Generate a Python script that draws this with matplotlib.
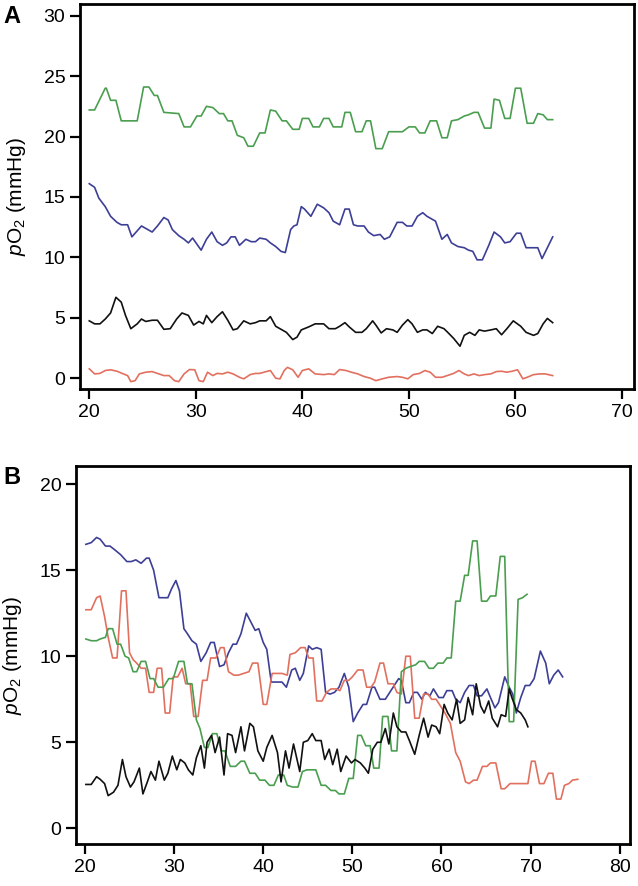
import matplotlib
matplotlib.use("Agg")
import matplotlib.pyplot as plt
import numpy as np

plt.rcParams["font.family"] = ["Liberation Sans", "DejaVu Sans"]
plt.rcParams["mathtext.fontset"] = "custom"
plt.rcParams["mathtext.rm"] = "Liberation Sans"
plt.rcParams["mathtext.it"] = "Liberation Sans:italic"

GREEN = "#4a9e4f"
BLUE = "#3d3f96"
RED = "#e2705f"
BLACK = "#111111"

# panel A: (time, pO2)
A_GREEN = [(20.0, 22.2), (20.5, 22.2), (21.5, 24.0), (21.6, 24.0), (22.0, 23.0), (22.5, 23.0),
           (23.0, 21.3), (24.5, 21.3), (25.1, 24.1), (25.6, 24.1), (26.1, 23.4), (26.4, 23.4),
           (27.0, 22.0), (28.4, 21.9), (28.9, 20.8), (29.5, 20.8), (30.1, 21.7), (30.5, 21.7),
           (31.0, 22.5), (31.6, 22.4), (32.2, 21.9), (32.6, 21.9), (33.0, 21.3), (33.4, 21.3),
           (33.9, 20.1), (34.5, 19.9), (34.9, 19.2), (35.4, 19.2), (36.0, 20.3), (36.5, 20.3),
           (37.0, 22.2), (37.5, 22.1), (38.1, 21.3), (38.5, 21.3), (39.1, 20.6), (39.7, 20.6),
           (40.0, 21.5), (40.6, 21.5), (41.0, 20.8), (41.6, 20.8), (42.0, 21.5), (42.5, 21.5),
           (42.9, 20.8), (43.7, 20.8), (44.0, 22.0), (44.5, 22.0), (45.0, 20.4), (45.6, 20.4),
           (46.0, 21.3), (46.4, 21.3), (46.9, 19.0), (47.5, 19.0), (48.1, 20.4), (49.4, 20.4),
           (50.0, 20.8), (50.6, 20.8), (51.0, 20.3), (51.5, 20.3), (52.0, 21.3), (52.6, 21.3),
           (53.1, 19.9), (53.6, 19.9), (54.0, 21.3), (54.6, 21.4), (55.2, 21.7), (55.6, 21.8),
           (56.1, 22.0), (56.5, 22.0), (57.1, 20.7), (57.7, 20.7), (58.0, 23.1), (58.5, 23.0),
           (59.0, 21.5), (59.5, 21.5), (60.0, 24.0), (60.5, 24.0), (61.1, 21.1), (61.7, 21.1),
           (62.1, 21.9), (62.6, 21.8), (63.0, 21.4), (63.5, 21.4)]

A_BLUE = [(20.0, 16.1), (20.5, 15.8), (20.9, 14.9), (21.5, 14.2), (22.0, 13.4), (22.6, 12.9),
          (23.0, 12.7), (23.6, 12.7), (24.0, 11.7), (24.5, 12.2), (24.9, 12.6), (25.3, 12.4),
          (25.9, 12.1), (26.4, 12.6), (27.0, 13.3), (27.4, 13.1), (27.8, 12.3), (28.4, 11.8),
          (28.9, 11.5), (29.3, 11.2), (29.7, 11.6), (30.1, 11.1), (30.5, 10.6), (31.0, 11.5),
          (31.5, 12.1), (32.0, 11.3), (32.5, 11.0), (32.9, 11.2), (33.3, 11.7), (33.7, 11.7),
          (34.1, 11.0), (34.7, 11.5), (35.2, 11.3), (35.6, 11.3), (36.0, 11.6), (36.6, 11.5),
          (37.0, 11.2), (37.5, 10.9), (38.0, 10.5), (38.4, 10.4), (38.9, 12.3), (39.2, 12.6),
          (39.5, 12.7), (39.9, 14.2), (40.2, 14.0), (40.8, 13.4), (41.4, 14.4), (42.0, 14.1),
          (42.5, 13.7), (42.9, 13.0), (43.5, 12.7), (44.0, 14.0), (44.4, 14.0), (44.8, 12.7),
          (45.2, 12.6), (45.8, 12.6), (46.2, 12.1), (46.7, 11.8), (47.3, 11.9), (47.7, 11.5),
          (48.2, 11.7), (48.9, 12.9), (49.4, 12.9), (49.8, 12.6), (50.3, 12.6), (50.8, 13.4),
          (51.3, 13.7), (51.7, 13.4), (52.1, 13.2), (52.5, 13.0), (53.1, 11.5), (53.6, 11.9),
          (54.0, 11.2), (54.6, 10.9), (55.2, 10.8), (55.6, 10.6), (56.0, 10.5), (56.4, 9.8),
          (56.9, 9.8), (57.5, 11.0), (58.0, 12.1), (58.6, 11.7), (59.0, 11.2), (59.5, 11.3),
          (60.1, 12.0), (60.5, 12.0), (61.0, 10.8), (61.6, 10.8), (62.1, 10.8), (62.5, 9.9),
          (63.0, 10.8), (63.5, 11.7)]

A_BLACK = [(20.0, 4.75), (20.5, 4.5), (21.0, 4.5), (21.5, 4.9), (22.0, 5.4), (22.5, 6.7),
           (23.0, 6.3), (23.4, 5.2), (23.9, 4.1), (24.5, 4.5), (24.9, 4.9), (25.3, 4.7),
           (25.9, 4.8), (26.4, 4.8), (27.0, 4.05), (27.6, 4.1), (28.2, 4.9), (28.7, 5.4),
           (29.3, 5.2), (29.8, 4.4), (30.3, 4.7), (30.7, 4.5), (31.0, 5.2), (31.5, 4.6),
           (32.0, 5.1), (32.5, 5.5), (33.0, 4.8), (33.5, 4.0), (33.9, 4.1), (34.5, 4.75),
           (35.1, 4.5), (35.6, 4.6), (36.0, 4.75), (36.6, 4.75), (37.0, 5.1), (37.5, 4.3),
           (37.9, 4.1), (38.5, 3.8), (39.1, 3.2), (39.5, 3.4), (39.9, 4.0), (40.6, 4.25),
           (41.2, 4.5), (42.0, 4.5), (42.5, 4.1), (43.1, 4.1), (43.5, 4.3), (44.0, 4.6),
           (44.4, 4.25), (45.0, 3.8), (45.6, 3.8), (46.0, 4.1), (46.6, 4.75), (46.9, 4.4),
           (47.4, 3.75), (47.9, 4.1), (48.5, 4.0), (48.9, 3.8), (49.4, 4.4), (49.9, 4.85),
           (50.3, 4.5), (50.8, 3.8), (51.3, 4.0), (51.7, 4.0), (52.2, 3.7), (52.7, 4.3),
           (53.3, 4.1), (53.7, 3.75), (54.2, 3.3), (54.8, 2.65), (55.2, 3.55), (55.7, 3.8),
           (56.2, 3.55), (56.6, 4.0), (57.1, 3.9), (57.7, 4.0), (58.2, 4.1), (58.7, 3.6),
           (59.2, 4.1), (59.8, 4.75), (60.5, 4.3), (61.0, 3.8), (61.7, 3.55), (62.1, 3.7),
           (62.6, 4.5), (63.0, 4.95), (63.5, 4.6)]

A_RED = [(20.0, 0.78), (20.5, 0.36), (21.0, 0.4), (21.5, 0.64), (22.0, 0.7), (22.6, 0.58),
         (23.2, 0.36), (23.6, 0.22), (23.9, -0.28), (24.3, -0.2), (24.7, 0.36), (25.3, 0.5),
         (25.9, 0.55), (26.4, 0.4), (27.0, 0.22), (27.5, 0.22), (28.0, -0.2), (28.4, -0.28),
         (28.9, 0.36), (29.4, 0.72), (29.9, 0.7), (30.3, -0.2), (30.7, -0.28), (31.1, 0.5),
         (31.6, 0.22), (32.0, 0.4), (32.5, 0.36), (33.0, 0.5), (33.5, 0.36), (34.1, 0.08),
         (34.5, -0.05), (35.1, 0.3), (35.6, 0.4), (36.0, 0.4), (36.6, 0.55), (37.0, 0.64),
         (37.5, 0.0), (37.9, -0.05), (38.3, 0.64), (38.6, 0.9), (39.1, 0.7), (39.6, 0.08),
         (40.0, 0.64), (40.6, 0.78), (41.2, 0.36), (42.0, 0.3), (42.5, 0.36), (43.0, 0.3),
         (43.5, 0.72), (44.1, 0.64), (44.6, 0.5), (45.2, 0.36), (45.8, 0.14), (46.4, 0.0),
         (46.9, -0.2), (47.5, -0.05), (48.1, 0.08), (48.9, 0.14), (49.4, 0.08), (49.9, -0.05),
         (50.4, 0.3), (51.0, 0.4), (51.5, 0.64), (52.0, 0.5), (52.5, 0.08), (53.1, 0.08),
         (53.6, 0.22), (54.2, 0.4), (54.7, 0.64), (55.2, 0.36), (55.6, 0.22), (56.1, 0.36),
         (56.6, 0.22), (57.1, 0.3), (57.7, 0.36), (58.2, 0.55), (58.7, 0.58), (59.2, 0.5),
         (59.7, 0.58), (60.2, 0.7), (60.7, -0.05), (61.1, 0.08), (61.7, 0.3), (62.3, 0.36),
         (62.8, 0.36), (63.5, 0.22)]

# panel B: (time, pO2)
B_BLUE = [(20.1, 16.5), (20.7, 16.6), (21.3, 16.9), (21.7, 16.8), (22.3, 16.4), (22.8, 16.4),
          (23.3, 16.2), (24.0, 15.9), (24.7, 15.5), (25.2, 15.5), (25.7, 15.6), (26.3, 15.4),
          (26.9, 15.7), (27.2, 15.7), (27.7, 15.0), (28.0, 14.2), (28.3, 13.4), (28.8, 13.4),
          (29.3, 13.4), (29.7, 13.9), (30.2, 14.4), (30.6, 13.8), (31.1, 11.6), (31.5, 11.3),
          (32.0, 10.9), (32.5, 10.7), (33.0, 9.7), (33.6, 10.2), (34.1, 10.8), (34.5, 10.8),
          (35.1, 9.4), (35.6, 9.5), (36.1, 10.2), (36.6, 10.7), (37.0, 10.7), (37.5, 11.3),
          (38.1, 12.5), (38.6, 12.0), (39.1, 11.5), (39.5, 11.6), (40.0, 10.8), (40.4, 10.4),
          (40.9, 8.5), (41.6, 8.5), (42.1, 8.5), (42.6, 8.2), (43.2, 9.2), (43.6, 9.3),
          (44.1, 8.6), (44.5, 9.0), (45.1, 10.6), (45.5, 10.4), (46.0, 10.5), (46.5, 10.4),
          (47.0, 7.9), (47.5, 7.8), (48.0, 7.9), (48.5, 8.2), (49.1, 9.0), (49.6, 8.2),
          (50.1, 6.2), (50.6, 6.7), (51.2, 7.2), (51.6, 7.2), (52.2, 8.2), (52.5, 8.2),
          (53.1, 7.5), (53.7, 7.5), (54.2, 7.9), (54.7, 8.3), (55.2, 8.7), (55.5, 8.6),
          (56.0, 7.3), (56.4, 7.3), (56.9, 7.9), (57.3, 7.9), (57.8, 7.5), (58.2, 7.9),
          (58.7, 7.7), (59.1, 8.1), (59.7, 7.6), (60.2, 7.6), (60.6, 8.0), (61.2, 8.0),
          (61.6, 7.5), (62.1, 7.3), (62.6, 7.9), (63.1, 8.3), (63.6, 8.3), (64.0, 7.7),
          (64.5, 7.7), (65.1, 8.1), (65.5, 7.6), (66.0, 7.0), (66.4, 7.3), (67.1, 8.8),
          (67.6, 8.2), (68.0, 7.8), (68.4, 6.7), (68.9, 7.6), (69.4, 8.3), (69.9, 8.3),
          (70.4, 8.7), (71.1, 10.3), (71.7, 9.6), (72.1, 8.4), (72.6, 8.9), (73.1, 9.2),
          (73.6, 8.8)]

B_RED = [(20.1, 12.7), (20.7, 12.7), (21.3, 13.4), (21.7, 13.5), (22.2, 12.3), (22.6, 11.1),
         (23.1, 9.9), (23.6, 9.9), (24.1, 13.8), (24.6, 13.8), (25.0, 10.2), (25.4, 9.8),
         (25.8, 9.6), (26.3, 9.3), (26.8, 9.3), (27.2, 7.9), (27.7, 7.9), (28.1, 9.3),
         (28.6, 9.3), (29.0, 6.7), (29.5, 6.7), (29.9, 8.8), (30.4, 8.8), (30.9, 9.3),
         (31.3, 8.4), (31.8, 8.4), (32.2, 6.5), (32.7, 6.5), (33.2, 8.6), (33.7, 8.6),
         (34.1, 9.9), (34.7, 9.9), (35.2, 10.5), (35.6, 10.5), (36.1, 9.1), (36.7, 8.9),
         (37.2, 8.9), (37.8, 9.0), (38.4, 9.1), (38.8, 9.6), (39.4, 9.6), (40.0, 7.2),
         (40.4, 7.2), (41.0, 9.0), (41.6, 9.0), (42.1, 9.0), (42.7, 8.9), (43.0, 10.1),
         (43.6, 10.2), (44.2, 10.5), (44.7, 10.5), (45.1, 9.9), (45.6, 9.9), (46.0, 7.4),
         (46.6, 7.4), (47.1, 7.9), (47.6, 8.1), (48.2, 8.1), (48.6, 8.0), (49.1, 8.6),
         (49.6, 8.6), (50.0, 8.8), (50.6, 9.2), (51.2, 9.2), (51.6, 8.2), (52.1, 8.2),
         (52.5, 8.5), (53.1, 9.6), (53.5, 9.6), (54.0, 8.4), (54.6, 8.4), (55.0, 7.9),
         (55.5, 7.8), (56.0, 10.0), (56.5, 10.0), (57.0, 6.4), (57.5, 6.4), (58.0, 7.8),
         (58.5, 7.8), (58.9, 7.5), (59.4, 7.5), (59.9, 7.1), (60.4, 6.7), (61.0, 6.1),
         (61.6, 4.4), (62.1, 3.9), (62.7, 2.7), (63.1, 2.6), (63.6, 2.8), (64.0, 2.8),
         (64.6, 3.6), (65.1, 3.6), (65.5, 3.8), (66.1, 3.8), (66.7, 2.3), (67.1, 2.3),
         (67.7, 2.6), (68.3, 2.6), (69.2, 2.6), (69.7, 2.6), (70.1, 3.9), (70.5, 3.9),
         (71.0, 2.6), (71.5, 2.6), (72.0, 3.2), (72.5, 3.2), (72.9, 1.7), (73.4, 1.7),
         (73.8, 2.5), (74.3, 2.6), (74.7, 2.8), (75.3, 2.85)]

B_GREEN = [(20.1, 11.0), (20.7, 10.9), (21.3, 10.9), (21.7, 11.0), (22.3, 11.1), (22.6, 11.6),
           (23.1, 11.6), (23.6, 10.7), (24.0, 10.7), (24.5, 10.0), (24.9, 9.9), (25.4, 9.1),
           (25.8, 9.1), (26.3, 9.7), (26.8, 9.7), (27.3, 8.7), (27.7, 8.7), (28.2, 8.2),
           (28.8, 8.2), (29.4, 8.7), (29.9, 8.7), (30.5, 9.7), (31.1, 9.7), (31.5, 8.4),
           (32.0, 8.4), (32.5, 6.3), (32.9, 5.8), (33.4, 4.7), (33.8, 4.7), (34.3, 5.5),
           (34.8, 5.5), (35.3, 4.5), (35.7, 4.5), (36.3, 3.6), (36.9, 3.6), (37.5, 3.9),
           (37.9, 3.9), (38.5, 3.2), (39.1, 3.2), (39.6, 2.8), (40.2, 2.8), (40.7, 2.5),
           (41.2, 2.5), (41.7, 3.1), (42.3, 3.1), (42.7, 2.5), (43.3, 2.4), (43.9, 2.4),
           (44.4, 3.3), (44.9, 3.4), (45.5, 3.4), (45.9, 3.4), (46.5, 2.5), (47.0, 2.5),
           (47.6, 2.2), (48.1, 2.2), (48.5, 2.0), (49.1, 2.0), (49.6, 2.9), (50.1, 2.9),
           (50.6, 5.4), (51.0, 5.4), (51.5, 4.8), (52.0, 4.8), (52.4, 3.5), (53.0, 3.5),
           (53.4, 6.5), (54.0, 6.5), (54.4, 4.5), (55.0, 4.5), (55.5, 9.1), (56.0, 9.3),
           (56.5, 9.4), (57.1, 9.5), (57.5, 9.7), (58.1, 9.7), (58.6, 9.3), (59.1, 9.3),
           (59.6, 9.6), (60.2, 9.6), (60.6, 9.9), (61.1, 9.9), (61.6, 13.2), (62.1, 13.2),
           (62.6, 14.7), (63.0, 14.7), (63.5, 16.7), (64.0, 16.7), (64.5, 13.2), (65.1, 13.2),
           (65.5, 13.5), (66.1, 13.5), (66.6, 15.8), (67.1, 15.8), (67.6, 6.2), (68.1, 6.2),
           (68.6, 13.3), (69.1, 13.4), (69.6, 13.6)]

B_BLACK = [(20.1, 2.55), (20.7, 2.55), (21.3, 3.0), (21.7, 2.85), (22.2, 2.6), (22.6, 1.9),
           (23.2, 2.1), (23.7, 2.5), (24.2, 4.0), (24.6, 3.0), (25.1, 2.4), (25.5, 2.7),
           (26.1, 3.5), (26.5, 2.0), (27.0, 2.7), (27.4, 3.3), (27.9, 2.8), (28.3, 3.9),
           (28.9, 2.8), (29.3, 3.2), (29.8, 4.2), (30.3, 3.4), (30.7, 4.0), (31.2, 3.8),
           (31.6, 3.4), (32.1, 3.1), (32.5, 4.1), (33.0, 4.8), (33.4, 3.5), (33.7, 5.0),
           (34.2, 5.4), (34.6, 4.4), (35.1, 5.3), (35.6, 3.1), (36.0, 5.5), (36.5, 5.4),
           (36.9, 4.4), (37.5, 5.9), (37.9, 4.5), (38.5, 6.1), (38.9, 5.9), (39.4, 4.5),
           (40.0, 3.9), (40.4, 4.7), (41.0, 5.4), (41.6, 4.4), (42.0, 2.7), (42.5, 4.5),
           (42.9, 3.5), (43.4, 4.9), (44.1, 3.3), (44.5, 5.0), (45.0, 5.1), (45.5, 5.5),
           (45.9, 5.1), (46.5, 5.1), (46.9, 4.0), (47.4, 4.6), (47.8, 3.7), (48.3, 4.6),
           (48.7, 3.3), (49.3, 4.2), (49.9, 3.8), (50.3, 4.0), (50.9, 3.8), (51.4, 3.5),
           (51.8, 3.2), (52.3, 4.6), (52.8, 5.0), (53.2, 5.0), (53.7, 5.8), (54.1, 4.9),
           (54.6, 6.7), (55.0, 5.9), (55.5, 5.6), (56.0, 5.6), (56.4, 5.1), (57.0, 4.3),
           (57.5, 5.4), (58.0, 6.4), (58.5, 5.3), (58.9, 6.0), (59.4, 5.9), (59.8, 5.5),
           (60.3, 7.2), (60.7, 6.7), (61.2, 6.3), (61.7, 7.5), (62.1, 6.1), (62.6, 6.3),
           (63.0, 7.6), (63.5, 6.6), (63.9, 8.4), (64.4, 7.1), (64.8, 6.7), (65.3, 7.4),
           (65.7, 6.4), (66.3, 5.9), (66.7, 6.6), (67.2, 6.5), (67.6, 8.1), (67.9, 7.6),
           (68.4, 6.9), (68.9, 6.7), (69.4, 6.3), (69.7, 5.9)]

A_XTICKS = [20, 30, 40, 50, 60, 70]
A_YTICKS = [0, 5, 10, 15, 20, 25, 30]
B_XTICKS = [20, 30, 40, 50, 60, 70, 80]
B_YTICKS = [0, 5, 10, 15, 20]


def style_axes(ax, xticks, yticks, xlim, ylim):
    ax.set_xlim(*xlim)
    ax.set_ylim(*ylim)
    ax.set_xticks(xticks)
    ax.set_yticks(yticks)
    for spine in ax.spines.values():
        spine.set_linewidth(2.0)
    ax.tick_params(direction="out", length=7.5, width=1.6, labelsize=14, pad=3)
    ax.set_ylabel(r"$p\mathrm{O}_2$ (mmHg)", fontsize=15, labelpad=11)


fig = plt.figure(figsize=(6.38, 8.86), dpi=100)

ax_a = fig.add_axes([0.1254, 0.5604, 0.8683, 0.4351])
for series, color in [(A_GREEN, GREEN), (A_BLUE, BLUE), (A_BLACK, BLACK), (A_RED, RED)]:
    xy = np.array(series)
    ax_a.plot(xy[:, 0], xy[:, 1], color=color, linewidth=1.2)
style_axes(ax_a, A_XTICKS, A_YTICKS, (19.13, 71.13), (-0.93, 30.97))

ax_b = fig.add_axes([0.1191, 0.0474, 0.8684, 0.4266])
for series, color in [(B_BLUE, BLUE), (B_RED, RED), (B_GREEN, GREEN), (B_BLACK, BLACK)]:
    xy = np.array(series)
    ax_b.plot(xy[:, 0], xy[:, 1], color=color, linewidth=1.2)
style_axes(ax_b, B_XTICKS, B_YTICKS, (18.99, 81.16), (-0.91, 21.05))

fig.text(0.006, 0.981, "A", fontsize=17, fontweight="bold", va="center", ha="left")
fig.text(0.006, 0.461, "B", fontsize=17, fontweight="bold", va="center", ha="left")

fig.savefig("out.png", dpi=100)
